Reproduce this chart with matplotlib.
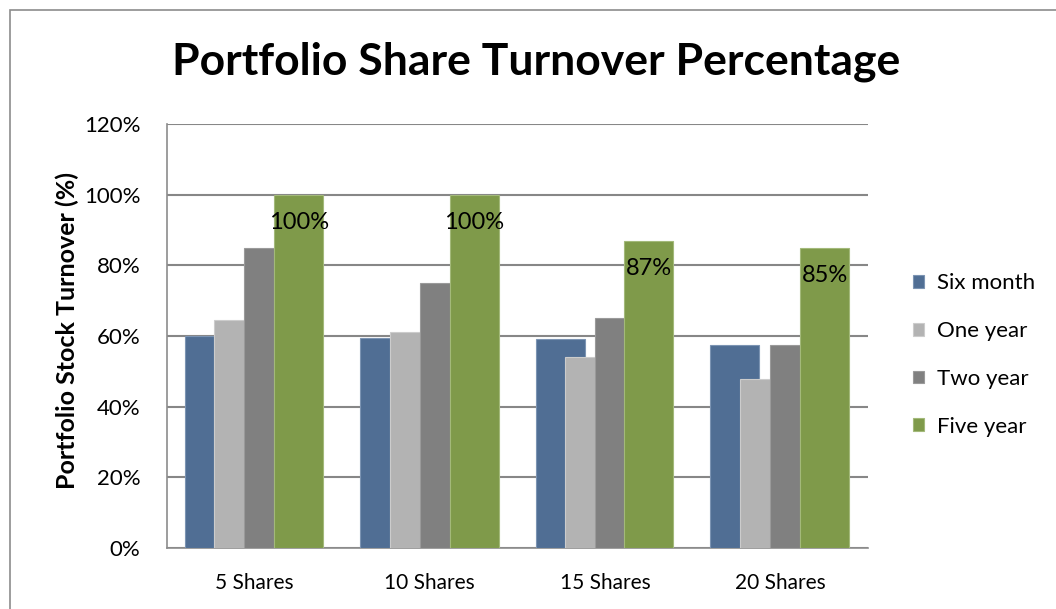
import matplotlib
matplotlib.use("Agg")
import matplotlib.pyplot as plt
from matplotlib.patches import Rectangle
import numpy as np

categories = ["5 Shares", "10 Shares", "15 Shares", "20 Shares"]
series_names = ["Six month", "One year", "Two year", "Five year"]
six_month = [60.0, 59.4, 59.1, 57.4]
one_year = [64.5, 61.1, 54.0, 47.8]
two_year = [84.9, 75.0, 65.1, 57.4]
five_year = [100.0, 100.0, 86.9, 85.0]
five_year_labels = ["100%", "100%", "87%", "85%"]
yticks = [0, 20, 40, 60, 80, 100, 120]
ytick_labels = ["0%", "20%", "40%", "60%", "80%", "100%", "120%"]

colors = ["#506E94", "#B3B3B3", "#808080", "#7F9A4A"]
edges = ["#7C94B3", "#CCCCCC", "#9A9A9A", "#A3B97A"]

FONT = "Lato"
plt.rcParams["font.family"] = [FONT, "DejaVu Sans"]

fig = plt.figure(figsize=(10.56, 6.09), dpi=100)
fig.patches.append(Rectangle((10/1056, -0.1), 1.2, 1 - 10/609 + 0.1,
                             transform=fig.transFigure, fill=False,
                             edgecolor="#8C8C8C", linewidth=1.2))

ax = fig.add_axes([167/1056, 61/609, 701/1056, 424/609])
x = np.arange(len(categories))

# per-bar left offsets and widths (category units), as in the original layout
narrow, wide = 0.171, 0.28
six_left = np.array([-0.40, -0.40, -0.394, -0.40])
six_w = np.array([narrow, narrow, wide, wide])
one_left = np.array([-0.229, -0.229, -0.229, -0.229])
two_left = np.array([-0.058, -0.058, -0.058, -0.058])
five_left = np.array([0.113, 0.113, 0.108, 0.113])

ax.bar(x + six_left, six_month, width=six_w, align="edge", color=colors[0],
       edgecolor=edges[0], linewidth=0.8, label=series_names[0], zorder=3)
ax.bar(x + one_left, one_year, width=narrow, align="edge", color=colors[1],
       edgecolor=edges[1], linewidth=0.8, label=series_names[1], zorder=3)
ax.bar(x + two_left, two_year, width=narrow, align="edge", color=colors[2],
       edgecolor=edges[2], linewidth=0.8, label=series_names[2], zorder=3)
bars5 = ax.bar(x + five_left, five_year, width=wide, align="edge", color=colors[3],
               edgecolor=edges[3], linewidth=0.8, label=series_names[3], zorder=3)

for b, lab in zip(bars5, five_year_labels):
    ax.annotate(lab, (b.get_x() + b.get_width() / 2, b.get_height()),
                xytext=(0, -28), textcoords="offset pixels",
                ha="center", va="center", fontsize=17, color="black", zorder=5)

ax.set_xlim(-0.5, len(categories) - 0.5)
ax.set_ylim(0, 120)
ax.set_yticks(yticks)
ax.set_yticklabels(ytick_labels, fontsize=16)
ax.set_xticks(x)
ax.set_xticklabels(categories, fontsize=15)
ax.tick_params(axis="y", length=0, pad=19)
ax.tick_params(axis="x", length=0, pad=18)
ax.grid(axis="y", color="#878787", linewidth=1.5, zorder=0)
for s in ["top", "right"]:
    ax.spines[s].set_visible(False)
for s in ["left", "bottom"]:
    ax.spines[s].set_color("#8C8C8C")
    ax.spines[s].set_linewidth(1.2)
ax.set_ylabel("Portfolio Stock Turnover (%)", fontsize=18, fontweight="bold", labelpad=5)
ax.yaxis.set_label_coords(-0.125, 0.514)

fig.text(536/1056, 1 - 62/609, "Portfolio Share Turnover Percentage",
         ha="center", va="center", fontsize=32, fontweight="bold")

leg = ax.legend(loc="upper left", bbox_to_anchor=(1.035, 0.695), frameon=False,
                fontsize=16, handlelength=0.5, handleheight=0.5,
                labelspacing=1.25, handletextpad=0.6)

fig.savefig("out.png", dpi=100)
